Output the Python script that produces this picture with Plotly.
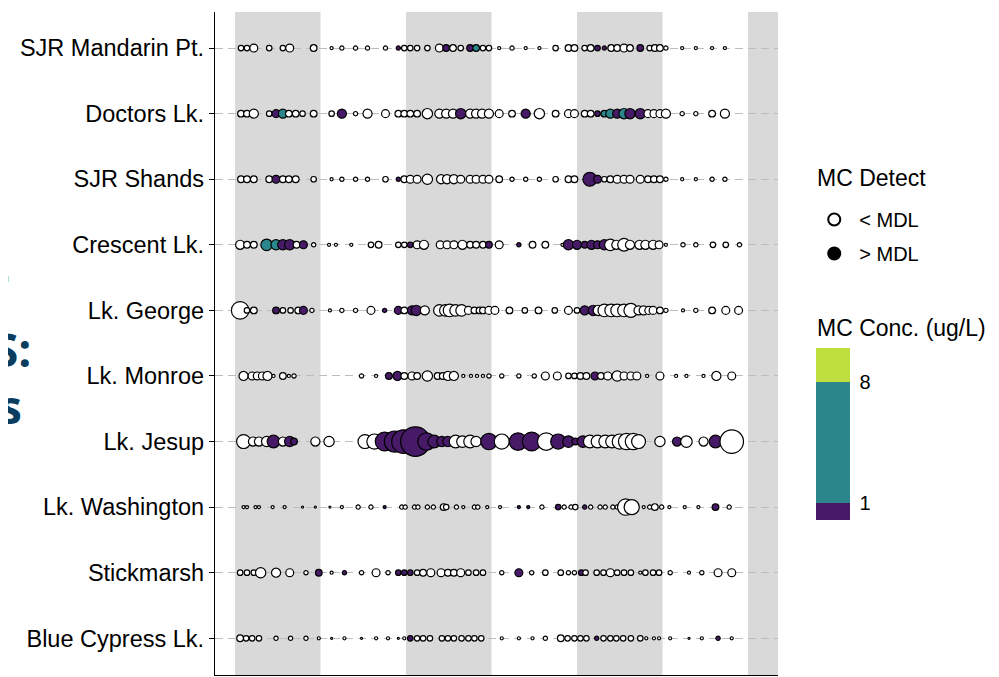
import plotly.graph_objects as go

sites = ["SJR Mandarin Pt.", "Doctors Lk.", "SJR Shands", "Crescent Lk.", "Lk. George",
         "Lk. Monroe", "Lk. Jesup", "Lk. Washington", "Stickmarsh", "Blue Cypress Lk."]

# time = years since 1 Jan 2015 ; bub = bubble-size variable ; mc = microcystin conc (0 = < MDL)
t_mandarin = [0.07,0.14,0.22,0.40,0.56,0.64,0.92,1.13,1.25,1.41,1.55,1.76,1.91,1.98,2.05,2.13,2.25,2.39,2.47,2.55,
              2.64,2.75,2.82,2.90,2.97,3.09,3.24,3.40,3.56,3.75,3.90,3.97,4.09,4.16,4.24,4.32,4.40,4.47,4.55,4.62,
              4.74,4.85,4.91,4.97,5.04,5.23,5.39,5.58,5.73]
b_mandarin = [5,5,7,5,5,7,6,3,4,4,4,4,4,5,5,5,5,7,6,6,5,6,6,5,5,3,4,3,3,5,6,6,5,6,5,4,6,6,7,6,6,5,6,6,4,3,3,3,3]
mc_mandarin = [0,0,0,0,0,0,0,0,0,0, 0,0,0.6,0,0,0,0,0,0.7,0, 0,0.8,2.5,0,0,0,0,0,0,0,
               0,0,0,0,0.5,0.4,0,0,0,0, 0.6,0,0,0,0,0,0,0,0]

t_doctors = [0.07,0.14,0.22,0.40,0.48,0.56,0.63,0.71,0.79,0.92, 1.13,1.25,1.41,1.55,1.76,1.91,1.98,2.05,2.13,2.25,
             2.39,2.47,2.55,2.64,2.75,2.82,2.89,2.97,3.09,3.24, 3.40,3.56,3.75,3.90,3.97,4.09,4.16,4.24,4.32,4.39,
             4.47,4.55,4.62,4.74,4.83,4.90,4.97,5.04,5.23,5.39, 5.58,5.73]
b_doctors = [6,6,8,5,7,8,6,6,5,6, 5,8,4,8,7,6,6,6,6,9, 8,8,8,9,8,8,8,8,7,6, 8,9,6,7,7,6,6,5,6,8,
             8,9,9,9,7,7,7,8,4,4, 6,8]
mc_doctors = [0,0,0,0,0.7,2.0,0,0,0,0, 0,0.8,0,0,0,0,0,0,0,0, 0,0,0,0.9,0,0,0,0,0,0,
              0.8,0,0,0,0,0,0,0.5,1.5,2.2, 0.9,3.0,0.9,0.9,0,0,0,0,0,0, 0,0]

t_shands = [0.07,0.14,0.22,0.40,0.48,0.56,0.63,0.71,0.92,1.13, 1.25,1.41,1.55,1.76,1.91,1.98,2.05,2.13,2.25,2.41,
            2.48,2.56,2.64,2.75,2.82,2.90,2.97,3.09,3.24,3.40, 3.56,3.75,3.90,3.97,4.15,4.24,4.32,4.39,4.47,4.55,
            4.62,4.74,4.83,4.90,4.97,5.04,5.23,5.39,5.58,5.73]
b_shands = [6,6,6,6,7,6,6,6,5,3, 4,4,4,5,4,6,7,7,9,8, 8,8,7,7,7,7,7,6,4,4, 4,5,6,6,12,7,5,6,7,7,
            7,7,6,6,6,4,3,3,4,4]
mc_shands = [0,0,0,0,0.8,0,0,0,0,0, 0,0,0,0,0.4,0,0,0,0,0, 0,0,0,0,0,0,0,0,0,0,
             0,0,0,0,0.9,0.7,0,0,0,0, 0,0,0,0,0,0,0,0,0,0]

t_crescent = [0.06,0.14,0.22,0.37,0.48,0.56,0.64,0.72,0.80,0.92, 1.10,1.18,1.36,1.59,1.68,1.91,1.98,2.05,2.13,2.21,
              2.40,2.48,2.56,2.66,2.75,2.82,2.90,2.97,3.09,3.32, 3.48,3.63,3.83,3.90,4.00,4.09,4.17,4.24,4.32,4.39,
              4.46,4.55,4.62,4.73,4.80,4.89,4.96,5.04,5.24,5.39, 5.59,5.74,5.90]
b_crescent = [8,6,6,10,9,9,9,6,7,4, 3,3,3,5,6,5,5,5,7,8, 7,7,7,8,6,6,6,6,7,4, 6,6,3,9,8,6,8,7,9,10,
              8,11,8,8,8,8,7,3,4,4, 5,5,4]
mc_crescent = [0,0,0,3.0,2.5,0.9,0.8,0,0.6,0, 0,0,0,0,0,0,0,0.5,0,0, 0,0,0,0,0,0,0,0.6,0,0.4,
               0,0,0,0.9,0.8,0.6,0.8,0.7,0.9,0, 0,0,0,0,0,0,0,0,0,0, 0,0,0]

t_george = [0.06,0.14,0.22,0.48,0.56,0.65,0.74,0.80,0.90,1.11, 1.25,1.41,1.59,1.75,1.91,1.98,2.07,2.12,2.22,2.39,
            2.46,2.51,2.58,2.65,2.73,2.80,2.86,2.90,2.97,3.04, 3.21,3.39,3.55,3.74,3.90,4.00,4.09,4.19,4.25,4.32,
            4.40,4.47,4.55,4.63,4.72,4.78,4.84,4.89,4.97,5.04, 5.24,5.39,5.58,5.74,5.89]
b_george = [15,5,6,6,5,5,6,7,4,3, 4,4,7,4,7,6,8,9,8,10, 10,11,10,10,7,6,6,6,7,7, 6,5,6,5,7,5,8,9,9,11,
            11,11,11,12,8,8,7,7,6,4, 3,4,6,7,7]
mc_george = [0,0,0,0.6,0,0,0,0.8,0,0, 0,0,0,0.4,0.7,0,0.8,0.9,0,0, 0,0,0,0,0,0,0,0,0,0,
             0,0,0,0,0,0,0.8,0.9,0,0, 0,0,0,0,0,0,0,0,0,0, 0,0,0,0,0]

t_monroe = [0.10,0.20,0.26,0.32,0.38,0.45,0.56,0.63,0.69,1.48, 1.65,1.80,1.90,1.98,2.07,2.13,2.25,2.37,2.43,2.49,
            2.56,2.67,2.76,2.83,2.90,2.97,3.12,3.32,3.50,3.63, 3.77,3.90,3.97,4.04,4.11,4.21,4.28,4.36,4.47,4.55,
            4.63,4.70,4.82,4.97,5.16,5.28,5.48,5.63,5.81]
b_monroe = [8,7,7,7,8,3,6,3,4,4, 3,6,8,6,7,6,9,6,6,8, 8,3,3,3,3,4,4,4,4,7, 7,5,5,6,6,7,6,7,9,7,
            7,7,3,7,3,3,3,8,7]
mc_monroe = [0,0,0,0,0,0,0,0,0,0, 0,0.5,0.8,0,0,0,0,0,0,0, 0,0,0,0,0,0,0,0,0,0,
             0,0,0,0,0,0.6,0,0,0,0, 0,0,0,0,0,0,0,0,0]

t_jesup = [0.10,0.21,0.28,0.37,0.45,0.56,0.64,0.69,0.94,1.10, 1.52,1.63,1.75,1.87,1.97,2.11,2.24,2.33,2.42,2.49,
           2.58,2.66,2.75,2.82,2.97,3.12,3.31,3.47,3.64,3.78, 3.90,3.98,4.07,4.15,4.24,4.33,4.41,4.50,4.58,4.66,
           4.72,4.97,5.17,5.28,5.48,5.62,5.81]
b_jesup = [12,8,8,9,11,8,9,6,8,9, 12,13,16,18,20,25,15,11,9,9, 11,10,11,9,14,13,15,16,15,13,
           10,6,10,11,11,11,11,13,14,14, 12,9,8,10,8,11,20]
mc_jesup = [0,0,0,0,0.8,0,0.7,0.5,0,0, 0,0,0.9,0.9,0.9,0.9,0.9,0.8,0.7,0.8, 0,0,0,0,0.9,0,0.9,0.9,0,0.8,
            0.7,0.5,0.7,0,0,0,0,0,0,0, 0,0,0.6,0,0,0.8,0]

t_washington = [0.10,0.14,0.24,0.28,0.44,0.58,0.79,0.94,1.11,1.25, 1.44,1.59,1.75,1.95,1.99,2.10,2.14,2.25,2.32,2.44,
                2.47,2.59,2.67,2.80,2.84,2.95,3.10,3.32,3.43,3.59, 3.78,3.85,3.93,3.98,4.09,4.16,4.27,4.33,4.42,4.47,
                4.57,4.64,4.78,4.85,4.91,4.99,5.08,5.26,5.42,5.62, 5.78]
b_washington = [3,3,3,3,3,3,2,2,2,3, 4,4,3,4,4,4,4,4,4,6, 5,4,3,4,4,3,3,3,3,4, 5,4,4,5,4,4,4,4,4,4,
                14,13,3,4,6,4,3,3,3,6, 4]
mc_washington = [0,0,0,0,0,0,0,0,0,0, 0,0,0.3,0,0,0,0,0,0,0, 0,0,0,0,0,0,0,0.3,0.3,0,
                 0.5,0,0,0,0.4,0,0,0,0,0, 0,0,0,0,0,0,0,0,0,0.6, 0]

t_stick = [0.06,0.14,0.22,0.30,0.48,0.64,0.83,0.98,1.13,1.28, 1.48,1.65,1.79,1.91,1.98,2.05,2.13,2.20,2.29,2.41,
           2.49,2.56,2.64,2.73,2.82,2.90,3.12,3.32,3.47,3.63, 3.81,3.90,3.97,4.05,4.10,4.23,4.31,4.39,4.47,4.55,
           4.63,4.74,4.80,4.89,4.96,5.09,5.31,5.46,5.65,5.81]
b_stick = [5,5,5,9,8,7,4,6,3,4, 4,7,4,5,5,5,5,6,7,7, 6,6,7,5,5,5,4,7,4,5, 5,4,4,5,5,5,5,7,5,5,
           5,3,5,5,5,4,3,4,7,7]
mc_stick = [0,0,0,0,0,0,0,0.6,0,0.4, 0,0,0,0.5,0.5,0.6,0,0,0,0, 0,0,0,0,0,0,0,0.7,0,0,
            0,0,0,0.5,0,0,0,0,0,0, 0,0,0,0,0,0,0,0,0,0]

t_bluecyp = [0.06,0.13,0.20,0.28,0.48,0.65,0.83,0.98,1.13,1.28, 1.48,1.65,1.79,1.91,1.98,2.05,2.13,2.20,2.28,2.42,
             2.49,2.56,2.65,2.73,2.80,2.88,3.12,3.32,3.48,3.63, 3.81,3.89,3.97,4.04,4.11,4.23,4.31,4.39,4.46,4.54,
             4.63,4.74,4.81,4.90,4.96,5.09,5.31,5.46,5.65,5.81]
b_bluecyp = [6,5,5,5,4,4,4,3,2,3, 2,3,3,2,3,5,5,5,5,5, 5,5,5,5,5,5,3,3,3,4, 6,5,5,5,5,4,5,5,5,5,
             5,5,3,3,3,3,2,3,4,3]
mc_bluecyp = [0,0,0,0,0,0,0,0,0,0, 0,0,0,0,0,0.4,0,0,0,0, 0,0,0,0,0,0,0,0,0,0,
              0,0,0,0,0,0.3,0,0,0,0, 0,0,0,0,0,0,0,0,0.3,0]

band_starts = [0, 2, 4, 6]          # shaded years
mc_breaks = [1, 8]
mc_range = [0, 10]

PURPLE = "#471a67"
TEAL = "#2b878c"
LIME = "#bfdf3e"


def mc_color(v):
    if v <= 0:
        return "white"
    if v < mc_breaks[0]:
        return PURPLE
    if v < mc_breaks[1]:
        return TEAL
    return LIME


series = [
    (sites[0], t_mandarin, b_mandarin, mc_mandarin),
    (sites[1], t_doctors, b_doctors, mc_doctors),
    (sites[2], t_shands, b_shands, mc_shands),
    (sites[3], t_crescent, b_crescent, mc_crescent),
    (sites[4], t_george, b_george, mc_george),
    (sites[5], t_monroe, b_monroe, mc_monroe),
    (sites[6], t_jesup, b_jesup, mc_jesup),
    (sites[7], t_washington, b_washington, mc_washington),
    (sites[8], t_stick, b_stick, mc_stick),
    (sites[9], t_bluecyp, b_bluecyp, mc_bluecyp),
]

fig = go.Figure()
for name, t, b, mc in series:
    fig.add_trace(go.Scatter(
        x=t, y=[name] * len(t), mode="markers", showlegend=False, hoverinfo="skip",
        marker=dict(size=[max(1.2 * v - 0.5, 2.0) for v in b], color=[mc_color(v) for v in mc],
                    line=dict(color="black", width=1.2), opacity=1)))

# legend entries
fig.add_trace(go.Scatter(x=[None], y=[None], mode="markers", name="< MDL", legendgroup="a",
                         marker=dict(size=13, color="white", line=dict(color="black", width=1.3))))
fig.add_trace(go.Scatter(x=[None], y=[None], mode="markers", name="> MDL", legendgroup="b",
                         marker=dict(size=13, color="black", line=dict(color="black", width=1))))

# colour bar
b0, b1 = mc_breaks[0] / mc_range[1], mc_breaks[1] / mc_range[1]
cscale = [[0, PURPLE], [b0, PURPLE], [b0, TEAL], [b1, TEAL], [b1, LIME], [1, LIME]]
fig.add_trace(go.Scatter(
    x=[None], y=[None], mode="markers", showlegend=False, hoverinfo="skip",
    marker=dict(color=[mc_range[0]], cmin=mc_range[0], cmax=mc_range[1], colorscale=cscale, showscale=True,
                colorbar=dict(x=1.0675, xanchor="left", xpad=0, y=0.3635, yanchor="middle", ypad=0,
                              len=0.2594, lenmode="fraction", thickness=34, thicknessmode="pixels",
                              outlinewidth=0, tickvals=mc_breaks, ticks="outside", ticklen=6,
                              tickcolor="rgba(0,0,0,0)",
                              tickfont=dict(size=20, color="black", family="Liberation Sans, Arial")))))

shapes = []
for s in band_starts:
    shapes.append(dict(type="rect", xref="x", yref="paper", x0=s, x1=min(s + 1, 6.351), y0=0, y1=1,
                       fillcolor="#d9d9d9", line=dict(width=0), layer="below"))
# remnant of slide behind the chart
shapes.append(dict(type="rect", xref="paper", yref="paper", x0=-0.40, x1=-0.366, y0=0.5927, y1=0.6018,
                   fillcolor="#a8dede", line=dict(width=0)))

fig.update_layout(
    width=991, height=669,
    margin=dict(l=207, r=221, t=4, b=2, autoexpand=False),
    paper_bgcolor="white", plot_bgcolor="white",
    font=dict(family="Liberation Sans, Arial", color="black"),
    shapes=shapes,
    xaxis=dict(range=[-0.234, 6.351], showgrid=False, zeroline=False, showticklabels=False, ticks="",
               showline=True, linecolor="black", linewidth=1.4),
    yaxis=dict(type="category", categoryarray=sites, range=[9.56, -0.55], showgrid=True,
               gridcolor="#bdbdbd", gridwidth=1.3, griddash="8px,5px", zeroline=False,
               showline=True, linecolor="black", linewidth=1.4, ticks="outside", ticklen=5,
               tickcolor="black", tickwidth=1.2, tickfont=dict(size=23.5, color="black")),
    legend=dict(x=1.0555, xanchor="left", y=0.7164, yanchor="top", bgcolor="rgba(0,0,0,0)",
                font=dict(size=20), itemsizing="constant", tracegroupgap=5, itemwidth=40),
    annotations=[
        dict(text="MC Detect", xref="paper", yref="paper", x=1.066, y=0.7496,
             xanchor="left", yanchor="middle", showarrow=False, font=dict(size=23, color="black")),
        dict(text="MC Conc. (ug/L)", xref="paper", yref="paper", x=1.066, y=0.5234,
             xanchor="left", yanchor="middle", showarrow=False, font=dict(size=23, color="black")),
        dict(text="<b>S:</b>", xref="paper", yref="paper", x=-0.3233, y=0.492, xanchor="right",
             yanchor="middle", showarrow=False, font=dict(size=46, color="#0b3d5e", family="Open Sans")),
        dict(text="<b>s</b>", xref="paper", yref="paper", x=-0.3395, y=0.405, xanchor="right",
             yanchor="middle", showarrow=False, font=dict(size=46, color="#0b3d5e", family="Open Sans")),
    ],
)

fig.write_html("out.html")
